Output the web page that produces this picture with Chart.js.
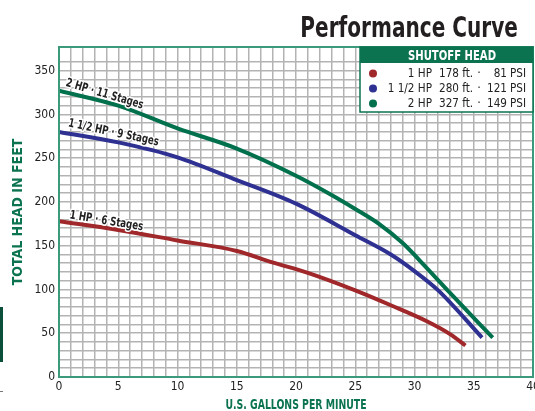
<!DOCTYPE html>
<html>
<head>
<meta charset="utf-8">
<title>Performance Curve</title>
<script src="https://cdn.jsdelivr.net/npm/chart.js@4.4.1/dist/chart.umd.min.js"></script>
<style>
    html, body { margin: 0; padding: 0; background: #fff; }
    #wrap { position: relative; width: 535px; height: 411px; }
</style>
</head>
<body>
<div id="wrap"><canvas id="curveChart"></canvas></div>
<script>
// ===== Pump performance curve =====

// flow (U.S. gpm) / total head (ft)
const gpm1hp = [0, 5, 10, 15, 18, 21, 25, 28, 31, 33, 34.3];
const head1hp = [178, 168, 156, 144, 131, 119, 99, 82, 64, 49, 36];

const gpm15hp = [0, 5, 10, 15, 20, 25, 28, 30, 32, 35.7];
const head15hp = [280, 268, 251, 225, 198, 162, 140, 121, 99, 45];

const gpm2hp = [0, 5, 10, 15, 20, 23, 25, 27, 29, 31, 33, 36.6];
const head2hp = [327, 310, 284, 261, 230, 208, 192, 175, 153, 125, 96, 45];

// shutoff head table
const hpLabels = ['1 HP', '1 1/2 HP', '2 HP'];
const shutoffFeet = [178, 280, 327];
const shutoffPsi = [81, 121, 149];
const curveNames = ['1 HP · 6 Stages', '1 1/2 HP · 9 Stages', '2 HP · 11 Stages'];

// axes
const xMax = 40;
const yMax = 377;
const xLabelStep = 5;
const yLabelStep = 50;

const FONT = "'DejaVu Sans Condensed', 'Liberation Sans', sans-serif";
const colors = ['#a0282a', '#2e3192', '#00704d'];
const green = '#0b7350';

function toPoints(xs, ys) {
    return xs.map((x, i) => ({ x: x, y: ys[i] }));
}

// text squeezed horizontally, the original uses a condensed face
function squeezedText(ctx, text, x, y, sx, align) {
    ctx.save();
    ctx.translate(x, y);
    ctx.scale(sx, 1);
    ctx.textAlign = align;
    ctx.fillText(text, 0, 0);
    ctx.restore();
}

const decorPlugin = {
    id: 'decor',
    afterDatasetsDraw(chart) {
        const ctx = chart.ctx;
        const area = chart.chartArea;
        const xs = chart.scales.x;
        const ys = chart.scales.y;
        ctx.save();

        // plot frame
        ctx.strokeStyle = '#3a9a7b';
        ctx.lineWidth = 2;
        ctx.strokeRect(area.left, area.top, area.right - area.left, area.bottom - area.top);

        // labels along the curves
        const spots = [[4.0, 178, 9.5], [4.6, 279, 12], [3.85, 323, 16.5]];
        ctx.font = `bold 12px ${FONT}`;
        ctx.textAlign = 'center';
        ctx.textBaseline = 'middle';
        curveNames.forEach((name, i) => {
            const [vx, vy, deg] = spots[i];
            ctx.save();
            ctx.translate(xs.getPixelForValue(vx), ys.getPixelForValue(vy));
            ctx.rotate(deg * Math.PI / 180);
            ctx.scale(0.8, 1);
            ctx.lineWidth = 3;
            ctx.strokeStyle = '#fff';
            ctx.strokeText(name, 0, 0);
            ctx.fillStyle = '#222';
            ctx.fillText(name, 0, 0);
            ctx.restore();
        });

        // shutoff head box
        const bx = 360, by = area.top, bw = area.right - 360, bh = 65;
        ctx.fillStyle = '#fff';
        ctx.fillRect(bx, by, bw, bh);
        ctx.strokeStyle = green;
        ctx.lineWidth = 1.5;
        ctx.strokeRect(bx, by, bw, bh);
        ctx.fillStyle = green;
        ctx.fillRect(bx, by, bw, 16);
        ctx.fillStyle = '#fff';
        ctx.font = `bold 14px ${FONT}`;
        squeezedText(ctx, 'SHUTOFF HEAD', 452, by + 9, 0.8, 'center');

        ctx.font = `12.5px ${FONT}`;
        hpLabels.forEach((hp, i) => {
            const ry = 73.5 + i * 15;
            ctx.fillStyle = colors[i];
            ctx.beginPath();
            ctx.arc(373, ry, 4, 0, Math.PI * 2);
            ctx.fill();
            ctx.fillStyle = '#222';
            squeezedText(ctx, hp, 432, ry, 0.93, 'right');
            squeezedText(ctx, `${shutoffFeet[i]} ft.`, 439, ry, 0.93, 'left');
            squeezedText(ctx, '·', 479, ry, 1, 'center');
            squeezedText(ctx, String(shutoffPsi[i]), 507, ry, 0.93, 'right');
            squeezedText(ctx, 'PSI', 510, ry, 0.93, 'left');
        });

        // x axis title
        ctx.fillStyle = green;
        ctx.font = `bold 14px ${FONT}`;
        squeezedText(ctx, 'U.S. GALLONS PER MINUTE', 296, 405, 0.74, 'center');

        // title
        ctx.fillStyle = '#231f20';
        ctx.font = `bold 29px ${FONT}`;
        ctx.textBaseline = 'alphabetic';
        squeezedText(ctx, 'Performance Curve', 518, 37, 0.77, 'right');

        // scan edge marks
        ctx.fillStyle = '#0b4f3a';
        ctx.fillRect(0, 307, 3, 55);
        ctx.fillStyle = '#777';
        ctx.fillRect(0, 391, 3, 1);

        ctx.restore();
    }
};

function makeDataset(i, xs, ys) {
    return {
        label: hpLabels[i],
        data: toPoints(xs, ys),
        borderColor: colors[i],
        borderWidth: 4,
        borderCapStyle: 'butt',
        pointRadius: 0,
        fill: false,
        cubicInterpolationMode: 'monotone'
    };
}

function initializeChart() {
    new Chart(document.getElementById('curveChart'), {
        type: 'line',
        data: {
            datasets: [
                makeDataset(0, gpm1hp, head1hp),
                makeDataset(1, gpm15hp, head15hp),
                makeDataset(2, gpm2hp, head2hp)
            ]
        },
        options: {
            responsive: true,
            maintainAspectRatio: false,
            animation: false,
            layout: { padding: { top: 47, right: 2, left: 0, bottom: 0 } },
            plugins: { legend: { display: false }, tooltip: { enabled: false } },
            scales: {
                x: {
                    type: 'linear',
                    min: 0,
                    max: xMax,
                    ticks: {
                        stepSize: 1,
                        autoSkip: false,
                        maxRotation: 0,
                        padding: 3,
                        color: '#222',
                        font: { family: FONT, size: 12 },
                        callback: v => v % xLabelStep === 0 ? v : ''
                    },
                    grid: { color: '#b3b3b3', lineWidth: 1.5, drawTicks: false },
                    border: { display: false },
                    afterFit(scale) {
                        scale.height = 34;
                        scale.paddingLeft = 0;
                        scale.paddingRight = 0;
                    }
                },
                y: {
                    min: 0,
                    max: yMax,
                    ticks: {
                        stepSize: 10,
                        autoSkip: false,
                        padding: 4,
                        color: '#222',
                        font: { family: FONT, size: 12 },
                        callback: v => v % yLabelStep === 0 ? v : ''
                    },
                    grid: { color: '#b3b3b3', lineWidth: 1.5, drawTicks: false },
                    border: { display: false },
                    title: {
                        display: true,
                        text: 'TOTAL HEAD IN FEET',
                        color: green,
                        font: { family: FONT, size: 14, weight: 'bold', lineHeight: 1 },
                        padding: { top: 11 }
                    },
                    afterFit(scale) {
                        scale.width = 59;
                        scale.paddingTop = 0;
                        scale.paddingBottom = 0;
                    }
                }
            }
        },
        plugins: [decorPlugin]
    });
}

document.addEventListener('DOMContentLoaded', initializeChart);
</script>
</body>
</html>
